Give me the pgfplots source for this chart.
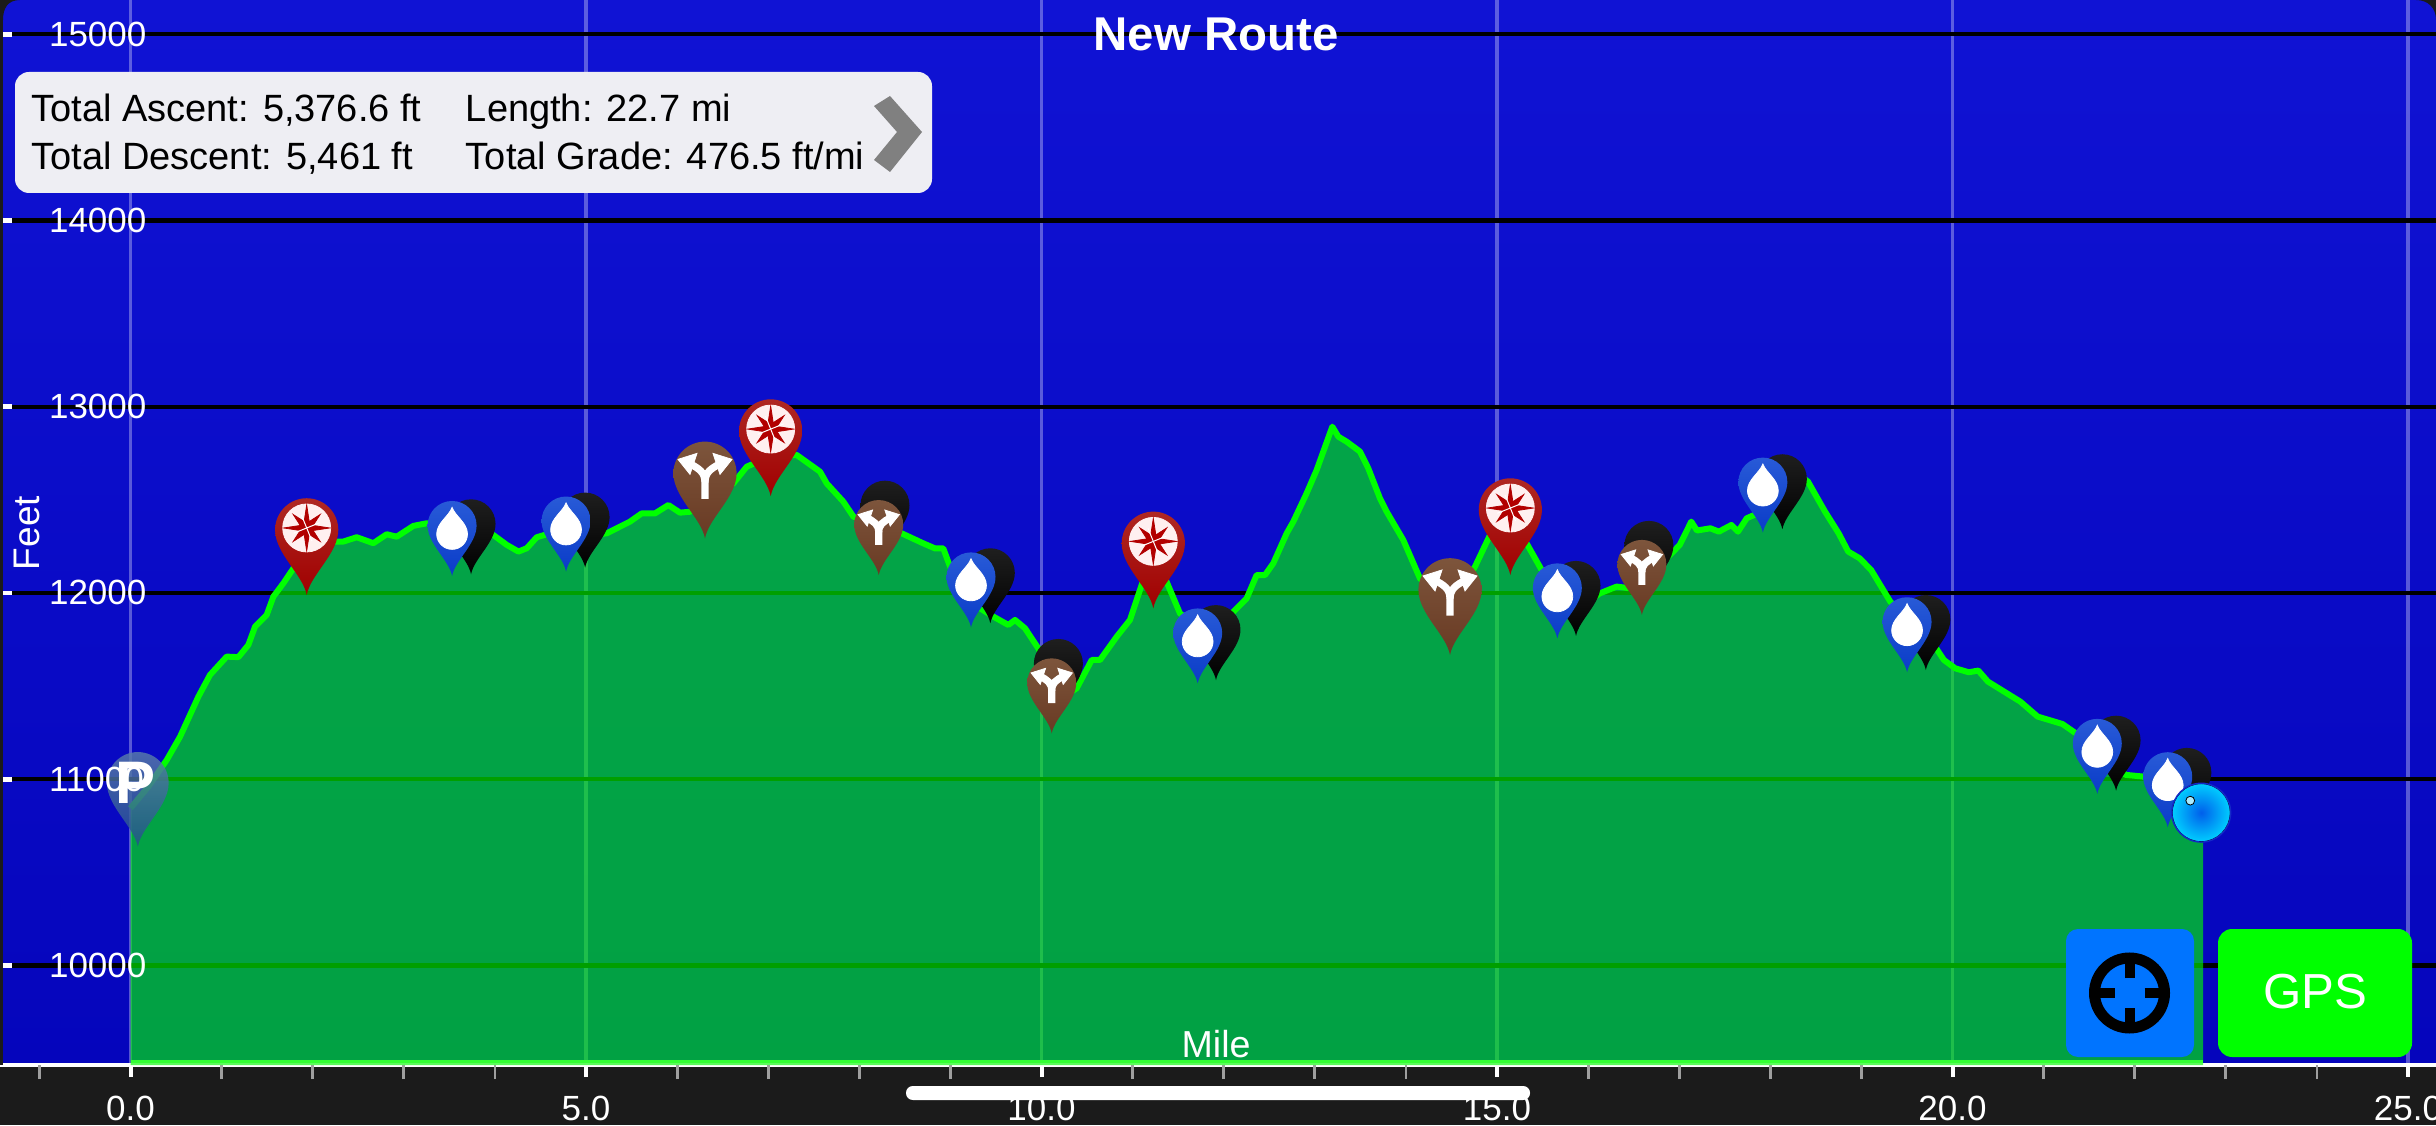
\documentclass[border=0pt]{standalone}
\usepackage{fontspec}
\setmainfont{Liberation Sans}
\usepackage{pgfplots}
\usepackage{pgfplotstable}
\pgfplotsset{compat=1.18}
\pgfplotsset{layers/labelsup/.define layer set={axis background,axis grid,axis ticks,axis lines,pre main,main,axis tick labels,axis descriptions,axis foreground}{tick label style={/pgfplots/on layer=axis tick labels}}}
\definecolor{dark}{HTML}{1B1B1B}
\definecolor{track}{HTML}{00FF00}
\tikzset{px/.style={x=0.5pt,y=-0.5pt,yshift=532.5pt}}
% elevation profile, miles / feet
\pgfplotstableread{
x y
0 10844
0.196 10960
0.398 11103
0.544 11228
0.745 11443
0.873 11560
1.056 11658
1.184 11655
1.294 11721
1.367 11819
1.495 11882
1.568 11980
1.678 12052
1.788 12132
1.971 12222
2.154 12276
2.337 12276
2.483 12299
2.666 12267
2.812 12315
2.922 12302
3.105 12360
3.251 12374
3.654 12356
3.983 12311
4.13 12258
4.258 12222
4.35 12240
4.459 12299
4.605 12320
5.044 12311
5.227 12320
5.483 12383
5.611 12427
5.757 12427
5.904 12472
6.032 12431
6.142 12436
6.398 12517
6.617 12588
6.764 12678
7.02 12732
7.312 12741
7.569 12651
7.642 12588
7.825 12490
7.935 12410
8.19 12347
8.465 12320
8.703 12266
8.831 12239
8.922 12239
8.996 12141
9.179 11962
9.471 11873
9.636 11828
9.709 11855
9.819 11810
9.965 11702
10.24 11443
10.386 11488
10.551 11640
10.642 11640
10.825 11765
10.971 11855
11.099 12043
11.227 12230
11.373 12060
11.52 11890
11.81 11783
12.105 11899
12.252 11971
12.361 12096
12.453 12096
12.544 12159
12.691 12320
12.764 12383
12.91 12535
13.02 12660
13.192 12893
13.258 12839
13.35 12812
13.496 12759
13.587 12669
13.715 12508
13.789 12436
13.971 12284
14.154 12078
14.484 11926
14.758 12141
14.923 12311
15.106 12450
15.325 12266
15.49 12123
15.691 11980
15.91 11926
16.13 11998
16.313 12034
16.459 12025
16.65 12060
16.88 12195
17.006 12258
17.132 12383
17.195 12335
17.342 12347
17.435 12329
17.573 12365
17.645 12329
17.741 12401
17.825 12419
18.14 12500
18.31 12634
18.413 12598
18.6 12437
18.75 12320
18.855 12222
18.98 12186
19.107 12123
19.317 11953
19.61 11801
19.82 11703
19.905 11640
20.03 11595
20.178 11574
20.283 11583
20.388 11524
20.745 11416
20.934 11336
21.207 11296
21.354 11246
21.63 11139
21.9 11023
22.09 11014
22.34 10960
22.75 10820
}\profile
% pin drawing, tip at the origin; medium size r=12.25pt h=37.5pt
\newcommand{\pinpath}{(0pt,0pt) .. controls (-1.5pt,8pt) and (-12.25pt,16pt) .. (-12.25pt,25.25pt) arc[start angle=180,end angle=0,radius=12.25pt] .. controls (12.25pt,16pt) and (1.5pt,8pt) .. (0pt,0pt) -- cycle}
\newcommand{\forkicon}{%
  \draw[white,line width=3.6pt] (0pt,19.7pt) -- (0pt,28pt) .. controls (0pt,33pt) and (-3pt,35pt) .. (-8pt,37.5pt);
  \draw[white,line width=3.6pt] (0pt,28pt) .. controls (0pt,33pt) and (3pt,35pt) .. (8pt,37.5pt);
  \fill[white] (-13.5pt,39.5pt) -- (-4pt,42.5pt) -- (-7.5pt,32pt) -- cycle;
  \fill[white] (13.5pt,39.5pt) -- (4pt,42.5pt) -- (7.5pt,32pt) -- cycle;}
\pgfdeclareplotmark{blackpin}{%
  \path[top color=black!88,bottom color=black,draw=none] \pinpath;}
\pgfdeclareplotmark{dropin}{%
  \path[draw=none,top color={rgb,255:red,40;green,90;blue,215},bottom color={rgb,255:red,10;green,60;blue,200}] \pinpath;
  \fill[white] (0pt,34.3pt) .. controls (-1.5pt,30pt) and (-7.7pt,26.5pt) .. (-7.7pt,21pt) arc[start angle=180,end angle=360,radius=7.7pt] .. controls (7.7pt,26.5pt) and (1.5pt,30pt) .. (0pt,34.3pt) -- cycle;}
\pgfdeclareplotmark{forksmall}{%
  \path[top color={rgb,255:red,125;green,85;blue,60},bottom color={rgb,255:red,105;green,58;blue,35},draw=none] \pinpath;
  \begin{pgfscope}\pgftransformscale{0.765}\forkicon\end{pgfscope}}
\pgfdeclareplotmark{forklarge}{%
  \begin{pgfscope}\pgftransformscale{1.29}\path[top color={rgb,255:red,125;green,85;blue,60},bottom color={rgb,255:red,105;green,58;blue,35},draw=none] \pinpath;\end{pgfscope}
  \forkicon}
\pgfdeclareplotmark{compass}{%
  \begin{pgfscope}\pgftransformscale{1.29}\path[top color={rgb,255:red,175;green,40;blue,35},bottom color={rgb,255:red,160;green,0;blue,0},draw=none] \pinpath;\end{pgfscope}
  \begin{pgfscope}\pgftransformshift{\pgfpoint{0pt}{33.5pt}}
    \fill[white!94!red] (0pt,0pt) circle[radius=12pt];
    \foreach \a in {0,90,180,270}{\fill[red!70!black] (\a:11.5pt) -- (\a+22:3.4pt) -- (\a-22:3.4pt) -- cycle;}
    \foreach \a in {45,135,225,315}{\fill[red!70!black] (\a:9.5pt) -- (\a+24:3.4pt) -- (\a-24:3.4pt) -- cycle;}
    \fill[red!70!black] (0pt,0pt) circle[radius=3.6pt];
    \foreach \a in {22,112,202,292}{\draw[white,line width=.5pt] (0pt,0pt) -- (\a:7pt);}
  \end{pgfscope}}
\pgfdeclareplotmark{parking}{%
  \begin{pgfscope}\pgftransformscale{1.26}\path[top color={rgb,255:red,90;green,125;blue,170},bottom color={rgb,255:red,35;green,80;blue,140},draw=none,opacity=.82] \pinpath;\end{pgfscope}
  \node[text=white,inner sep=0pt,font=\fontsize{30}{30}\selectfont\bfseries] at (-1pt,32pt) {P};}
\pgfdeclareplotmark{bubble}{%
  \path[inner color={rgb,255:red,0;green,95;blue,235},outer color={rgb,255:red,0;green,205;blue,255}] (0pt,0pt) circle[radius=14.5pt];
  \draw[line width=.7pt,draw={rgb,255:red,20;green,40;blue,200}] (0pt,0pt) circle[radius=14.7pt];
  \fill[fill={rgb,255:red,170;green,235;blue,255}] (-5.5pt,6pt) circle[radius=2.2pt];}
\begin{document}
\begin{tikzpicture}
\fill[dark,px] (0,0) rectangle (2436,1125);
\begin{axis}[
  set layers=labelsup,
  at={(0,0)},anchor=south west,
  scale only axis,width=1218pt,height=532.5pt,
  xmin=-1.4325,xmax=25.307,ymin=9465,ymax=15184,
  axis background/.style={top color={rgb,255:red,16;green,19;blue,212},bottom color={rgb,255:red,5;green,5;blue,188}},
  axis lines*=left,
  x axis line style={white,line width=2.4pt,-},
  y axis line style={draw=none,-},
  xtick={0,5,...,25},
  ytick={10000,11000,...,15000},
  scaled y ticks=false,scaled x ticks=false,
  extra x ticks={-1,1,2,3,4,6,7,8,9,11,12,13,14,16,17,18,19,21,22,23,24},
  extra x tick labels={},
  extra x tick style={major tick length=7pt,xmajorgrids=false,major x tick style={gray!75,line width=1.4pt}},
  minor ytick={9600,9800,10200,10400,10600,10800,11200,11400,11600,11800,12200,12400,12600,12800,13200,13400,13600,13800,14200,14400,14600,14800},
  xtick align=outside,ytick align=inside,
  xmajorgrids,ymajorgrids,
  x grid style={white,opacity=.32,line width=1.6pt},
  y grid style={black,line width=2.2pt},
  major x tick style={white,line width=2pt},
  major y tick style={white,line width=2.4pt},
  minor y tick style={gray!60!black,line width=1pt},
  major tick length=6pt,
  minor tick length=1.5pt,
  tick label style={font=\fontsize{17.5}{17.5}\selectfont,text=white},
  /pgf/number format/assume math mode=true,
  xticklabel style={/pgf/number format/fixed,/pgf/number format/fixed zerofill,/pgf/number format/precision=1,yshift=-6pt},
  yticklabel style={/pgf/number format/fixed,/pgf/number format/precision=0,/pgf/number format/set thousands separator={},anchor=west,xshift=21pt},
  title={New Route},
  title style={at={(axis description cs:.4992,.968)},anchor=center,yshift=-6pt,text=white,font=\fontsize{23.7}{24}\selectfont\bfseries},
  xlabel={Mile},
  xlabel style={at={(axis description cs:.4992,.0197)},anchor=center,text=white,font=\fontsize{18.8}{19}\selectfont},
  ylabel={Feet},
  ylabel style={at={(axis description cs:.011,.4995)},anchor=center,text=white,font=\fontsize{18.5}{19}\selectfont},
]
\addplot[draw=none,fill=track!98!black,fill opacity=.64] table {\profile} \closedcycle;
\addplot[track,line width=3pt,line join=round] table {\profile};
\addplot[track!80!white,line width=1.6pt] coordinates {(0,9482) (22.75,9482)};
\addplot[only marks,mark=blackpin] coordinates {
 (3.738,12100) (4.99,12136) (8.282,12200) (9.438,11837) (10.185,11350) (11.915,11532)
 (15.867,11769) (16.667,11984) (18.132,12342) (19.707,11586) (21.795,10938) (22.572,10765)};
\addplot[only marks,mark=dropin] coordinates {
 (3.53,12091) (4.781,12115) (9.226,11815) (11.714,11514) (15.662,11756)
 (17.918,12324) (19.501,11574) (21.589,10921) (22.362,10742)};
\addplot[only marks,mark=forksmall] coordinates {(8.213,12096) (10.112,11246) (16.59,11882)};
\addplot[only marks,mark=forklarge] coordinates {(6.306,12293) (14.484,11667)};
\addplot[only marks,mark=compass] coordinates {(1.934,11989) (7.027,12520) (11.227,11917) (15.146,12096)};
\addplot[on layer=axis foreground,only marks,mark=parking] coordinates {(0.08,10638)};
\addplot[only marks,mark=bubble] coordinates {(22.73,10820)};
\end{axis}
\begin{scope}[px]
  % screen edge
  \fill[dark] (0,0) rectangle (3,1065);
  \fill[dark] (0,0) -- (20,0) .. controls (8,0) and (3,8) .. (3,20) -- (0,20) -- cycle;
  \fill[dark] (2436,0) -- (2416,0) .. controls (2428,0) and (2436,8) .. (2436,20) -- cycle;
  % info panel
  \fill[rounded corners=7pt,fill={rgb,255:red,238;green,238;blue,243}] (15,72) rectangle (932,193);
  \begin{scope}[every node/.style={anchor=base west,inner sep=0pt,text=black,font=\fontsize{19}{19}\selectfont}]
    \node at (31,122) {Total Ascent: 5,376.6 ft};
    \node at (31,170) {Total Descent: 5,461 ft};
    \node at (465.5,122) {Length: 22.7 mi};
    \node at (465.5,170) {Total Grade: 476.5 ft/mi};
  \end{scope}
  \fill[gray] (874,106) -- (890,96) -- (922,132) -- (890,172) -- (874,160) -- (897,132) -- cycle;
  % buttons
  \fill[rounded corners=6pt,fill={rgb,255:red,0;green,116;blue,255}] (2066,929) rectangle (2194,1057);
  \draw[black,line width=5.5pt] (2129.5,993) circle[radius=35];
  \foreach \a/\b/\c/\d in {0/-15/0/-30,0/15/0/30,-15/0/-30/0,15/0/30/0}
    \draw[black,line width=5pt] (2129.5+\a,993+\b) -- (2129.5+\c,993+\d);
  \fill[track,rounded corners=7pt] (2218,929) rectangle (2412,1057);
  \node[text=white,inner sep=0pt,font=\fontsize{24.6}{25}\selectfont] at (2315,992) {GPS};
  % home indicator
  \fill[white,rounded corners=3.4pt] (906,1086) rectangle (1530,1100);
\end{scope}
\pgfresetboundingbox
\path[use as bounding box,px] (0,0) rectangle (2436,1125);
\end{tikzpicture}
\end{document}
